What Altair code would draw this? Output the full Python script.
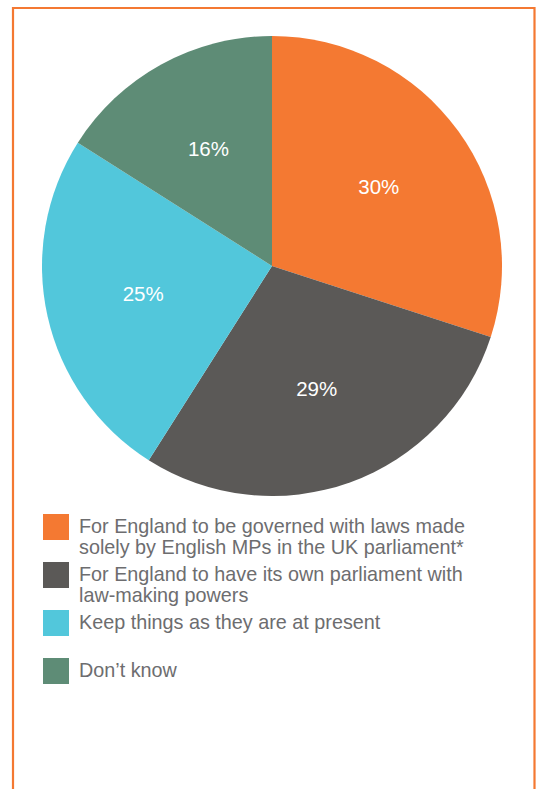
import altair as alt
import pandas as pd

categories = [
    "For England to be governed with laws made\nsolely by English MPs in the UK parliament*",
    "For England to have its own parliament with\nlaw-making powers",
    "Keep things as they are at present",
    "Don\u2019t know",
]
values = [30, 29, 25, 16]
labels = ["30%", "29%", "25%", "16%"]
colors = ["#F47932", "#5B5957", "#52C7DB", "#5E8C76"]

df = pd.DataFrame({
    "cat": categories,
    "value": values,
    "label": labels,
    "idx": list(range(len(categories))),
})

color_scale = alt.Scale(domain=categories, range=colors)
CX, CY, R = 272, 266, 230

base = alt.Chart(df)

pie = base.mark_arc(outerRadius=R, stroke=None).encode(
    theta=alt.Theta("value:Q", stack=True),
    color=alt.Color("cat:N", scale=color_scale, legend=None),
    order=alt.Order("idx:Q"),
    x=alt.value(CX),
    y=alt.value(CY),
)

pie_text = base.mark_text(
    radius=132, font="Liberation Sans", fontSize=20.5, color="white"
).encode(
    theta=alt.Theta("value:Q", stack=True),
    order=alt.Order("idx:Q"),
    text="label:N",
    x=alt.value(CX),
    y=alt.value(CY),
)

ypos = alt.Y("cat:N", scale=alt.Scale(domain=categories, range=[527, 671], padding=0), axis=None)

leg_sq = base.mark_square(size=676, opacity=1).encode(
    x=alt.value(56),
    y=ypos,
    color=alt.Color("cat:N", scale=color_scale, legend=None),
)

leg_txt = base.mark_text(
    align="left", baseline="middle", font="Liberation Sans", fontSize=19.8,
    lineBreak="\n", lineHeight=20.5, color="#6D6D6F"
).encode(
    x=alt.value(79),
    y=ypos,
    text="cat:N",
)

frame = alt.Chart(pd.DataFrame({"frame": [0]})).mark_rect(
    fill=None, stroke="#F47932", strokeWidth=2.2
).encode(
    x=alt.value(13), x2=alt.value(534.5), y=alt.value(8), y2=alt.value(830)
)

chart = alt.layer(frame, pie, pie_text, leg_sq, leg_txt).properties(
    width=541, height=789, padding=0, autosize=alt.AutoSizeParams(type="none"),
    background="white",
).configure_view(stroke=None)

chart.save("out.html", embed_options={"renderer": "svg", "actions": False})
